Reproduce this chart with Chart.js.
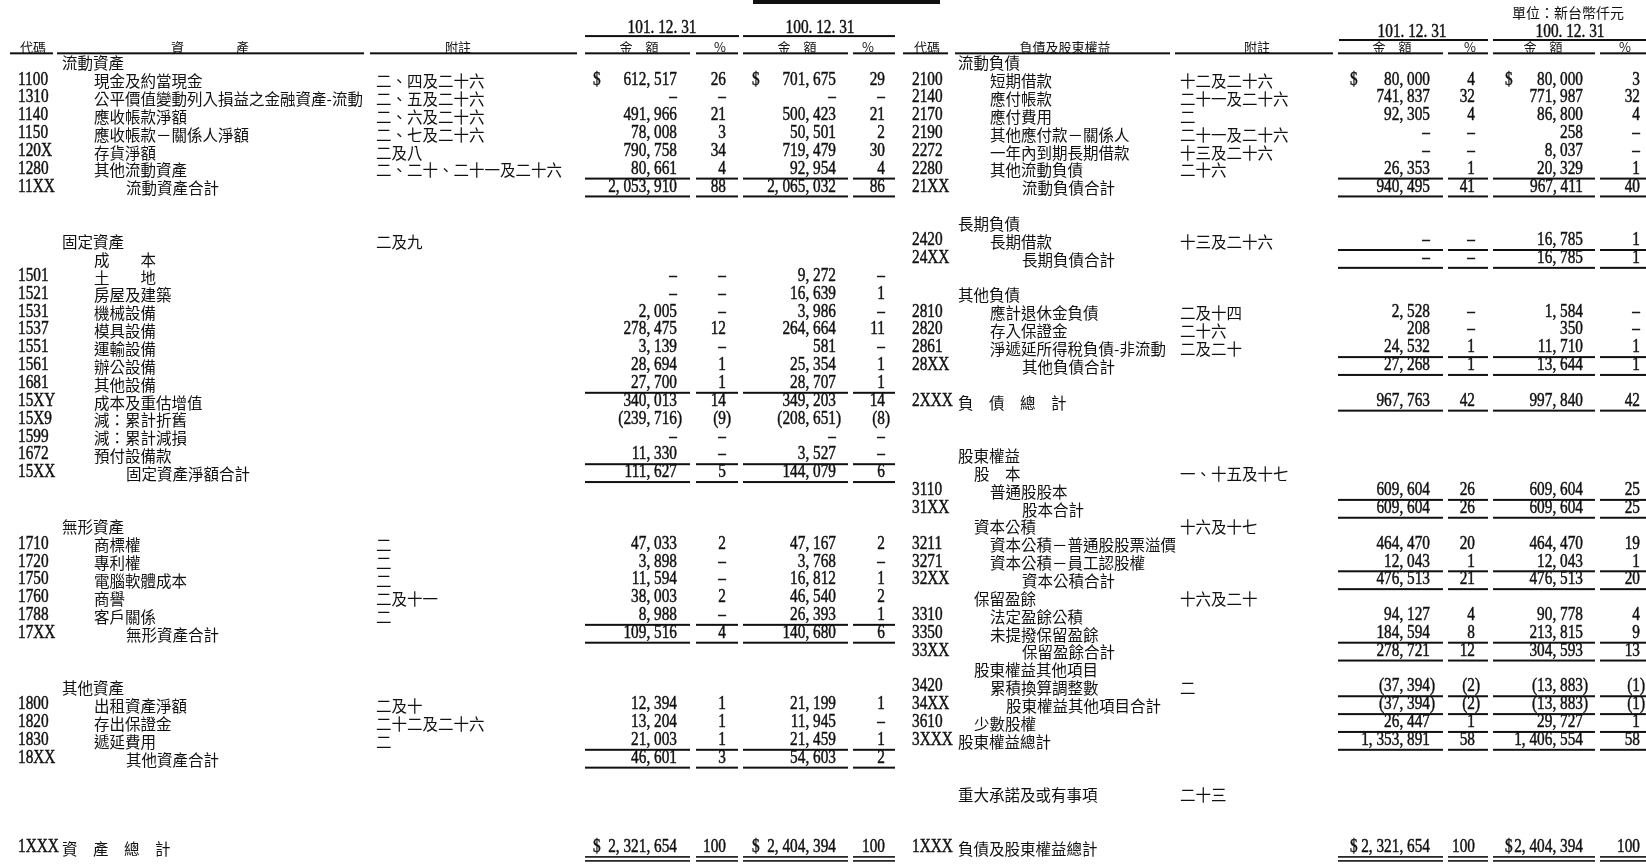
<!DOCTYPE html>
<html lang="zh-Hant">
<head>
<meta charset="utf-8">
<title>資產負債表</title>
<script src="https://cdn.jsdelivr.net/npm/chart.js@4.4.1/dist/chart.umd.min.js"></script>
<style>
  html, body { margin: 0; padding: 0; background: #fff; }
  #wrap { width: 1646px; height: 864px; }
</style>
</head>
<body>
<div id="wrap"><canvas id="sheet" width="1646" height="864"></canvas></div>
<script>
// ---------- data ----------
const unitLabel = "單位：新台幣仟元";
const periodLabels = ["101.12.31", "100.12.31"];
const leftHeaders = ["代碼", "資　　　　產", "附註", "金　額", "%", "金　額", "%"];
const rightHeaders = ["代碼", "負債及股東權益", "附註", "金　額", "%", "金　額", "%"];
const dollarRows = [1, 44];

// assets side (row = line number on the sheet)
const leftRows = [0, 1, 2, 3, 4, 5, 6, 7, 10, 11, 12, 13, 14, 15, 16, 17, 18, 19, 20, 21, 22, 23,
  26, 27, 28, 29, 30, 31, 32, 35, 36, 37, 38, 39, 44];
const leftCodes = ["", "1100", "1310", "1140", "1150", "120X", "1280", "11XX", "", "", "1501", "1521",
  "1531", "1537", "1551", "1561", "1681", "15XY", "15X9", "1599", "1672", "15XX", "", "1710", "1720",
  "1750", "1760", "1788", "17XX", "", "1800", "1820", "1830", "18XX", "1XXX"];
const leftNames = ["流動資產", "現金及約當現金", "公平價值變動列入損益之金融資產-流動", "應收帳款淨額",
  "應收帳款－關係人淨額", "存貨淨額", "其他流動資產", "流動資產合計", "固定資產", "成　　本", "土　　地",
  "房屋及建築", "機械設備", "模具設備", "運輸設備", "辦公設備", "其他設備", "成本及重估增值", "減：累計折舊",
  "減：累計減損", "預付設備款", "固定資產淨額合計", "無形資產", "商標權", "專利權", "電腦軟體成本", "商譽",
  "客戶關係", "無形資產合計", "其他資產", "出租資產淨額", "存出保證金", "遞延費用", "其他資產合計",
  "資　產　總　計"];
const leftLevels = [0, 2, 2, 2, 2, 2, 2, 4, 0, 2, 2, 2, 2, 2, 2, 2, 2, 2, 2, 2, 2, 4, 0, 2, 2, 2, 2, 2, 4,
  0, 2, 2, 2, 4, 0];
const leftNotes = ["", "二、四及二十六", "二、五及二十六", "二、六及二十六", "二、七及二十六", "二及八",
  "二、二十、二十一及二十六", "", "二及九", "", "", "", "", "", "", "", "", "", "", "", "", "", "",
  "二", "二", "二", "二及十一", "二", "", "", "二及十", "二十二及二十六", "二", "", ""];
const leftAmt101 = [null, 612517, 0, 491966, 78008, 790758, 80661, 2053910, null, null, 0, 0, 2005,
  278475, 3139, 28694, 27700, 340013, -239716, 0, 11330, 111627, null, 47033, 3898, 11594, 38003, 8988,
  109516, null, 12394, 13204, 21003, 46601, 2321654];
const leftPct101 = [null, 26, 0, 21, 3, 34, 4, 88, null, null, 0, 0, 0, 12, 0, 1, 1, 14, -9, 0, 0, 5,
  null, 2, 0, 0, 2, 0, 4, null, 1, 1, 1, 3, 100];
const leftAmt100 = [null, 701675, 0, 500423, 50501, 719479, 92954, 2065032, null, null, 9272, 16639,
  3986, 264664, 581, 25354, 28707, 349203, -208651, 0, 3527, 144079, null, 47167, 3768, 16812, 46540,
  26393, 140680, null, 21199, 11945, 21459, 54603, 2404394];
const leftPct100 = [null, 29, 0, 21, 2, 30, 4, 86, null, null, 0, 1, 0, 11, 0, 1, 1, 14, -8, 0, 0, 6,
  null, 2, 0, 1, 2, 1, 6, null, 1, 0, 1, 2, 100];
const leftRuleRows = [6, 7, 18, 22, 23, 31, 32, 38, 39];

// liabilities & equity side
const rightRows = [0, 1, 2, 3, 4, 5, 6, 7, 9, 10, 11, 13, 14, 15, 16, 17, 19, 22, 23, 24, 25, 26, 27,
  28, 29, 30, 31, 32, 33, 34, 35, 36, 37, 38, 41, 44];
const rightCodes = ["", "2100", "2140", "2170", "2190", "2272", "2280", "21XX", "", "2420", "24XX", "",
  "2810", "2820", "2861", "28XX", "2XXX", "", "", "3110", "31XX", "", "3211", "3271", "32XX", "",
  "3310", "3350", "33XX", "", "3420", "34XX", "3610", "3XXX", "", "1XXX"];
const rightNames = ["流動負債", "短期借款", "應付帳款", "應付費用", "其他應付款－關係人", "一年內到期長期借款",
  "其他流動負債", "流動負債合計", "長期負債", "長期借款", "長期負債合計", "其他負債", "應計退休金負債",
  "存入保證金", "淨遞延所得稅負債-非流動", "其他負債合計", "負　債　總　計", "股東權益", "股　本",
  "普通股股本", "股本合計", "資本公積", "資本公積－普通股股票溢價", "資本公積－員工認股權", "資本公積合計",
  "保留盈餘", "法定盈餘公積", "未提撥保留盈餘", "保留盈餘合計", "股東權益其他項目", "累積換算調整數",
  "股東權益其他項目合計", "少數股權", "股東權益總計", "重大承諾及或有事項", "負債及股東權益總計"];
const rightLevels = [0, 2, 2, 2, 2, 2, 2, 4, 0, 2, 4, 0, 2, 2, 2, 4, 0, 0, 1, 2, 4, 1, 2, 2, 4, 1, 2, 2,
  4, 1, 2, 3, 1, 0, 0, 0];
const rightNotes = ["", "十二及二十六", "二十一及二十六", "二", "二十一及二十六", "十三及二十六", "二十六", "",
  "", "十三及二十六", "", "", "二及十四", "二十六", "二及二十", "", "", "", "一、十五及十七", "", "",
  "十六及十七", "", "", "", "十六及二十", "", "", "", "", "二", "", "", "", "二十三", ""];
const rightAmt101 = [null, 80000, 741837, 92305, 0, 0, 26353, 940495, null, 0, 0, null, 2528, 208,
  24532, 27268, 967763, null, null, 609604, 609604, null, 464470, 12043, 476513, null, 94127, 184594,
  278721, null, -37394, -37394, 26447, 1353891, null, 2321654];
const rightPct101 = [null, 4, 32, 4, 0, 0, 1, 41, null, 0, 0, null, 0, 0, 1, 1, 42, null, null, 26, 26,
  null, 20, 1, 21, null, 4, 8, 12, null, -2, -2, 1, 58, null, 100];
const rightAmt100 = [null, 80000, 771987, 86800, 258, 8037, 20329, 967411, null, 16785, 16785, null,
  1584, 350, 11710, 13644, 997840, null, null, 609604, 609604, null, 464470, 12043, 476513, null, 90778,
  213815, 304593, null, -13883, -13883, 29727, 1406554, null, 2404394];
const rightPct100 = [null, 3, 32, 4, 0, 0, 1, 40, null, 1, 1, null, 0, 0, 1, 1, 42, null, null, 25, 25,
  null, 19, 1, 20, null, 4, 9, 13, null, -1, -1, 1, 58, null, 100];
const rightRuleRows = [6, 7, 10, 11, 16, 17, 19, 24, 25, 28, 29, 32, 33, 35, 36, 37, 38];
const totalRow = 44;

// ---------- layout ----------
const ROW_PX = 17.85;
const rowMin = -62 / ROW_PX;
const rowMax = rowMin + 864 / ROW_PX;
const headRow = -0.85;
const unitRow = -2.75;

const sides = {
  left: {
    code: 18, name: 62, indent: 16, note: 376,
    dollar: [593, 752], amt: [677, 836], pct: [726, 885],
    headX: [33, 210, 458, 639, 720, 797, 868], dateX: [662, 820], dateRow: -1.9,
    headRules: [[10, 53], [57, 364], [370, 577], [585, 690], [696, 738], [743, 848], [853, 895]],
    dateRules: [[585, 739], [743, 895]],
    numRules: [[585, 690], [696, 738], [743, 848], [853, 895]]
  },
  right: {
    code: 912, name: 958, indent: 16, note: 1180,
    dollar: [1350, 1505], amt: [1430, 1583], pct: [1475, 1640],
    headX: [927, 1065, 1257, 1392, 1470, 1543, 1625], dateX: [1412, 1570], dateRow: -1.68,
    headRules: [[903, 948], [955, 1170], [1175, 1333], [1338, 1443], [1448, 1488], [1493, 1595], [1600, 1646]],
    dateRules: [[1339, 1488], [1493, 1646]],
    numRules: [[1338, 1443], [1448, 1488], [1493, 1595], [1600, 1646]]
  }
};

const NUM_FONT = "18px 'Liberation Serif'";
const NUM_SCALE = 0.85;
const FONTS = {
  cjk: "15.5px 'Noto Sans CJK TC'",
  head: "13px 'Noto Sans CJK TC'",
  unit: "14px 'Noto Sans CJK TC'"
};
const CJK_DROP = 1.5;   // the scanned Ming glyphs sit a little lower than the digits
const INK = "#111";

function fmtAmt(v) {
  if (v === null) return "";
  if (v === 0) return "–";
  const s = Math.abs(v).toLocaleString("en-US");
  return v < 0 ? "(" + s + ")" : s;
}

function cellSet(rows, texts, x, kind, align) {
  const pts = [], tx = [];
  rows.forEach((r, i) => {
    if (texts[i] === "" || texts[i] == null) return;
    pts.push({ x: typeof x === "function" ? x(i) : x, y: r });
    tx.push(texts[i]);
  });
  return { data: pts, texts: tx, kind: kind, align: align, pointRadius: 0, pointHoverRadius: 0 };
}

function sideSets(L, rows, codes, names, levels, notes, a1, p1, a2, p2, headers) {
  const dollars = rows.map(r => dollarRows.includes(r) ? "$" : "");
  return [
    cellSet(rows, codes, L.code, "num", "left"),
    cellSet(rows, names, i => L.name + levels[i] * L.indent, "cjk", "left"),
    cellSet(rows, notes, L.note, "cjk", "left"),
    cellSet(rows, dollars, L.dollar[0], "num", "left"),
    cellSet(rows, dollars, L.dollar[1], "num", "left"),
    cellSet(rows, a1.map(fmtAmt), L.amt[0], "num", "right"),
    cellSet(rows, p1.map(fmtAmt), L.pct[0], "num", "right"),
    cellSet(rows, a2.map(fmtAmt), L.amt[1], "num", "right"),
    cellSet(rows, p2.map(fmtAmt), L.pct[1], "num", "right"),
    cellSet(headers.map(() => headRow), headers, i => L.headX[i], "head", "center"),
    cellSet([L.dateRow, L.dateRow], periodLabels, i => L.dateX[i], "num", "center")
  ];
}

const datasets = [].concat(
  sideSets(sides.left, leftRows, leftCodes, leftNames, leftLevels, leftNotes,
    leftAmt101, leftPct101, leftAmt100, leftPct100, leftHeaders),
  sideSets(sides.right, rightRows, rightCodes, rightNames, rightLevels, rightNotes,
    rightAmt101, rightPct101, rightAmt100, rightPct100, rightHeaders),
  [cellSet([unitRow], [unitLabel], 1512, "unit", "left")]
);

// ---------- drawing ----------
function drawCell(ctx, text, x, y, kind, align) {
  ctx.save();
  ctx.fillStyle = INK;
  ctx.strokeStyle = INK;
  ctx.textBaseline = "middle";
  ctx.textAlign = align;
  if (kind === "num") {
    ctx.font = NUM_FONT;
    const shown = text.replace(/,/g, ", ").replace(/\.(?=\d)/g, ". ");
    let dx = 0;
    if (align === "right" && shown.endsWith(")")) dx = ctx.measureText(")").width * NUM_SCALE;
    ctx.translate(x + dx, y);
    ctx.scale(NUM_SCALE, 1);
    ctx.lineWidth = 0.45;
    ctx.fillText(shown, 0, 0);
    ctx.strokeText(shown, 0, 0);
  } else {
    ctx.font = FONTS[kind];
    ctx.fillText(text, x, kind === "cjk" ? y + CJK_DROP : y);
  }
  ctx.restore();
}

const sheetText = {
  id: "sheetText",
  afterDatasetsDraw(chart) {
    chart.data.datasets.forEach((ds, i) => {
      chart.getDatasetMeta(i).data.forEach((pt, j) => {
        drawCell(chart.ctx, ds.texts[j], pt.x, pt.y, ds.kind, ds.align);
      });
    });
  }
};

const sheetRules = {
  id: "sheetRules",
  afterDatasetsDraw(chart) {
    const ctx = chart.ctx, xs = chart.scales.x, ys = chart.scales.y;
    ctx.save();
    ctx.fillStyle = INK;
    const rule = (span, row, off, w) => {
      const x1 = xs.getPixelForValue(span[0]), x2 = xs.getPixelForValue(span[1]);
      const y = ys.getPixelForValue(row) + off;
      ctx.fillRect(x1, y - w / 2, x2 - x1, w);
    };
    const doSide = (L, ruleRows) => {
      L.headRules.forEach(s => rule(s, headRow, 6.5, 2));
      L.dateRules.forEach(s => rule(s, L.dateRow, 8, 2));
      ruleRows.forEach(r => L.numRules.forEach(s => rule(s, r, 9.5, 2)));
      L.numRules.forEach(s => { rule(s, totalRow, 9.5, 1.6); rule(s, totalRow, 13.5, 1.6); });
    };
    doSide(sides.left, leftRuleRows);
    doSide(sides.right, rightRuleRows);
    // torn title bar at the top edge of the scan
    rule([753, 940], rowMin, 2, 4);
    ctx.restore();
  }
};

new Chart(document.getElementById("sheet"), {
  type: "scatter",
  data: { datasets: datasets },
  options: {
    responsive: false,
    animation: false,
    events: [],
    layout: { padding: 0 },
    plugins: { legend: { display: false }, tooltip: { enabled: false } },
    scales: {
      x: { type: "linear", min: 0, max: 1646, display: false },
      y: { type: "linear", min: rowMin, max: rowMax, reverse: true, display: false }
    }
  },
  plugins: [sheetRules, sheetText]
});
</script>
</body>
</html>
